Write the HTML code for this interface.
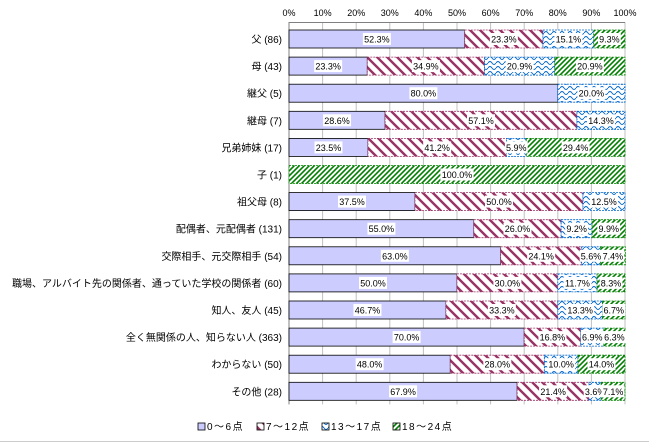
<!DOCTYPE html>
<html><head><meta charset="utf-8"><style>
body{margin:0;background:#fff;}
svg{display:block;font-family:"Liberation Sans","Noto Sans CJK JP",sans-serif;}
</style></head><body>
<svg id="c" width="649" height="444">
<defs>
<pattern id="p2" width="10" height="10" patternUnits="userSpaceOnUse"><rect width="10" height="10" fill="#fff"/><path d="M-3,7 L3,13 M0,0 L10,10 M7,-3 L13,3" stroke="#993366" stroke-width="2.4"/></pattern>
<pattern id="p3" width="8" height="5" patternUnits="userSpaceOnUse"><rect width="8" height="5" fill="#fff"/><path d="M0,3 Q2,0 4,3 T8,3" fill="none" stroke="#0066cc" stroke-width="0.9"/></pattern>
<pattern id="p4" width="5" height="5" patternUnits="userSpaceOnUse"><rect width="5" height="5" fill="#fff"/><path d="M-1,6 L6,-1 M-1,1 L1,-1 M4,6 L6,4" stroke="#008000" stroke-width="1.6"/></pattern>
</defs>
<g id="grid"></g><g id="bars"></g><g id="labels"></g><g id="legend"></g>
<line x1="0" y1="441.5" x2="649" y2="441.5" stroke="#ccc"/>
</svg>
<script>
const categories=["父 (86)","母 (43)","継父 (5)","継母 (7)","兄弟姉妹 (17)","子 (1)","祖父母 (8)","配偶者、元配偶者 (131)","交際相手、元交際相手 (54)","職場、アルバイト先の関係者、通っていた学校の関係者 (60)","知人、友人 (45)","全く無関係の人、知らない人 (363)","わからない (50)","その他 (28)"];
const s1=[52.3,23.3,80.0,28.6,23.5,0,37.5,55.0,63.0,50.0,46.7,70.0,48.0,67.9];
const s2=[23.3,34.9,0,57.1,41.2,0,50.0,26.0,24.1,30.0,33.3,16.8,28.0,21.4];
const s3=[15.1,20.9,20.0,14.3,5.9,0,12.5,9.2,5.6,11.7,13.3,6.9,10.0,3.6];
const s4=[9.3,20.9,0,0,29.4,100.0,0,9.9,7.4,8.3,6.7,6.3,14.0,7.1];
const seriesNames=["0～6点","7～12点","13～17点","18～24点"];
const ticks=[0,10,20,30,40,50,60,70,80,90,100];
const NS="http://www.w3.org/2000/svg";
const X0=289,X1=625,Y0=22,STEP=27.1,BH=18;
const x=v=>X0+(X1-X0)*v/100;
const yTop=i=>Y0+8+i*STEP;
function mk(t,a,p){const e=document.createElementNS(NS,t);for(const k in a)e.setAttribute(k,a[k]);p.appendChild(e);return e;}
const grid=document.getElementById('grid'),bars=document.getElementById('bars'),labels=document.getElementById('labels'),legend=document.getElementById('legend');
const yB=Y0+categories.length*STEP+3;
ticks.forEach(t=>{
 const l=mk('line',{x1:x(t),x2:x(t),y1:Y0,y2:yB,stroke:'#c0c0c0','stroke-width':1},grid);
 
 
 const tx=mk('text',{x:x(t),y:16,'text-anchor':'middle','font-size':9,fill:'#000'},grid);
 tx.textContent=t+'%';
 
 
});
const ax=mk('line',{x1:X0,x2:X1,y1:Y0+0.5,y2:Y0+0.5,stroke:'#808080'},grid);


const ax2=mk('line',{x1:X0,x2:X0,y1:Y0,y2:yB,stroke:'#808080'},grid);


const fills=['#ccccff','url(#p2)','url(#p3)','url(#p4)'];
const strokes=['#000','#993366','#0066cc','#008000'];
const series=[s1,s2,s3,s4];
categories.forEach((c,i)=>{
 const yt=yTop(i);
 const ct=mk('text',{x:282,y:yt+BH/2+4,'text-anchor':'end','font-size':10,fill:'#000'},labels);
 ct.textContent=c;
 
 
 let acc=0;
 series.forEach((s,k)=>{
  const v=s[i]; if(!v){return;}
  const r=mk('rect',{x:x(acc),y:yt,width:x(acc+v)-x(acc),height:BH,fill:fills[k],stroke:k==0?'#000':strokes[k],'stroke-width':0.8,'stroke-dasharray':k==0?'':'2,1'},bars);
  
  
  const cx=(x(acc)+x(acc+v))/2, txt=v.toFixed(1)+'%';
  const w=txt.length*5.2+2;
  const bg=mk('rect',{x:cx-w/2,y:yt+BH/2-6,width:w,height:12,fill:'#fff'},labels);
  
  
  const vt=mk('text',{x:cx,y:yt+BH/2+3.5,'text-anchor':'middle','font-size':9,fill:'#000'},labels);
  vt.textContent=txt;
  
  
  acc+=v;
 });
});
const lx=[198,257,322,393];
seriesNames.forEach((n,k)=>{
 const r=mk('rect',{x:lx[k],y:423,width:7,height:7,fill:fills[k],stroke:'#000','stroke-width':0.8},legend);
 
 
 const t=mk('text',{x:lx[k]+9,y:430,'font-size':10,fill:'#000','letter-spacing':'1.5'},legend);
 t.textContent=n;
 
 
});
</script>
</body></html>
